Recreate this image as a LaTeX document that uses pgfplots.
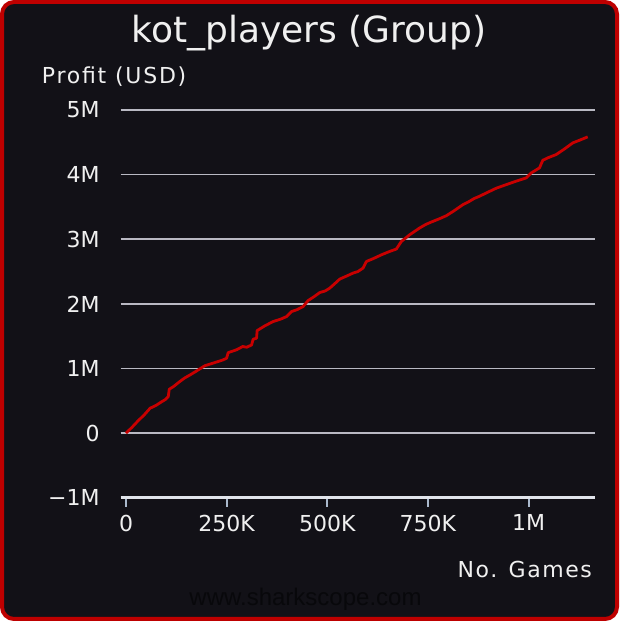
\documentclass[border=0pt]{standalone}
\usepackage{fontspec}
\setmainfont{DejaVu Sans}
\newfontfamily\wmfont{Liberation Sans}
\usepackage{pgfplots}
\pgfplotsset{compat=1.18}
\definecolor{bgcol}{RGB}{18,17,23}
\definecolor{bordercol}{RGB}{190,0,0}
\definecolor{txtcol}{RGB}{240,240,240}
\definecolor{gridcol}{RGB}{185,185,195}
\definecolor{axcol}{RGB}{225,228,235}
\definecolor{tickcol}{RGB}{170,185,205}
\definecolor{linecol}{RGB}{200,0,0}
\definecolor{wmcol}{RGB}{8,8,11}
\begin{document}
\begin{tikzpicture}[x=1pt,y=1pt]
\useasboundingbox (0,0) rectangle (619,621);
\draw[fill=bgcol, draw=bordercol, line width=4pt, rounded corners=12pt] (2,2) rectangle (617,619);
\node[anchor=base, text=txtcol, inner sep=0pt, font=\fontsize{36}{40}\selectfont] at (309,578) {kot\_players (Group)};
\node[anchor=base west, text=txtcol, inner sep=0pt, font=\fontsize{22}{26}\selectfont\addfontfeatures{LetterSpace=8}] at (41.7,537) {Profit (USD)};
\node[anchor=base east, text=txtcol, inner sep=0pt, font=\fontsize{22}{26}\selectfont\addfontfeatures{LetterSpace=7}] at (592,43.7) {No. Games};
\node[anchor=base, text=wmcol, inner sep=0pt, font=\wmfont\fontsize{24}{28}\selectfont] at (305.5,15) {www.sharkscope.com};
\begin{axis}[
  at={(120.7pt,123.3pt)}, anchor=south west,
  scale only axis, width=474.3pt, height=387.7pt,
  xmin=-13200, xmax=1165200, ymin=-1000000, ymax=5000000,
  axis x line*=bottom, axis y line*=left,
  x axis line style={draw=axcol, line width=2.5pt, -},
  y axis line style={draw=none},
  xtick={0,250000,500000,750000,1000000},
  xticklabels={0,250K,500K,750K,1M},
  ytick={-1000000,0,1000000,2000000,3000000,4000000,5000000},
  yticklabels={−1M,0,1M,2M,3M,4M,5M},
  scaled ticks=false,
  ymajorgrids,
  grid style={draw=gridcol, line width=1.5pt},
  xtick style={draw=tickcol, line width=2pt},
  ytick style={draw=none},
  tick align=outside,
  major tick length=9pt,
  ticklabel style={font=\fontsize{22}{26}\selectfont, text=txtcol, inner sep=0pt},
  xticklabel style={anchor=north, yshift=-8pt},
  yticklabel style={anchor=east, xshift=-12pt},
  /pgf/number format/assume math mode=true,
]
\addplot[linecol, line width=2.8pt, line join=round] coordinates {
(0,0) (15000,90000) (30000,190000) (45000,280000) (60000,385000) (75000,430000) (88600,485000) (98000,520000) (105000,563000) (107400,678000)
(118000,720000) (130000,780000) (145000,850000) (158800,899000) (175000,960000) (196000,1043000) (210000,1070000) (225000,1100000)
(240000,1130000) (249900,1158000) (253800,1245000) (275000,1290000) (290000,1340000) (300000,1328000) (311900,1364000)
(315900,1453000) (324300,1468000) (325800,1586000) (345000,1660000) (365500,1726000)
(385000,1765000) (398800,1803000) (411200,1881000) (425000,1910000) (440000,1958000) (452400,2051000) (467000,2110000) (481400,2175000)
(495000,2200000) (506200,2243000) (520000,2320000) (531000,2383000) (548000,2430000) (564000,2476000) (576000,2500000) (588800,2553000) (597300,2656000)
(613600,2698000) (635000,2760000) (655000,2811000) (671700,2848000) (684100,2966000) (705000,3070000)
(729500,3174000) (745000,3230000) (760000,3270000) (778000,3315000) (795800,3364000) (815000,3440000) (837000,3535000) (850000,3575000) (865000,3630000)
(880000,3670000) (895000,3716000) (920000,3790000) (944700,3845000) (970000,3900000) (994300,3949000) (1006700,4026000) (1027300,4104000)
(1035500,4222000) (1050000,4265000) (1068700,4310000) (1090000,4400000) (1110000,4491000) (1128000,4535000) (1147100,4584000)
};
\end{axis}
\end{tikzpicture}
\end{document}
